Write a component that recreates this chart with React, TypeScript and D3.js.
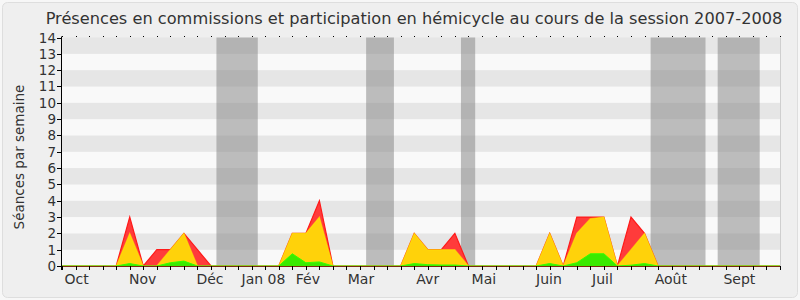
import React from "react";
import * as d3 from "d3";

const title = "Présences en commissions et participation en hémicycle au cours de la session 2007-2008";
const yAxisTitle = "Séances par semaine";

// weekly values, week index 0..53
const presenceRed = [0,0,0,0,0,3,0,1,1,2, 1,0,0,0,0,0,0,2,2,4, 0,0,0,0,0,0,2,1,1,2, 0,0,0,0,0,0,2,0,3,3, 3,0,3,2,0,0,0,0,0,0, 0,0,0,0];
const participationYellow = [0,0,0,0,0,2,0,0,1,2, 0,0,0,0,0,0,0,2,2,3, 0,0,0,0,0,0,2,1,1,1, 0,0,0,0,0,0,2,0,2,2.9, 3,0,1,2,0,0,0,0,0,0, 0,0,0,0];
const commissionGreen = [0,0,0,0,0,0.15,0,0,0.2,0.3, 0,0,0,0,0,0,0,0.75,0.2,0.25, 0,0,0,0,0,0,0.15,0.08,0.06,0.06, 0,0,0,0,0,0,0.15,0,0.2,0.75, 0.75,0,0.05,0.15,0,0,0,0,0,0, 0,0,0,0];

const monthLabels = ["Oct", "Nov", "Déc", "Jan 08", "Fév", "Mar", "Avr", "Mai", "Juin", "Juil", "Août", "Sept"];
const monthPositions = [1.08, 5.96, 10.92, 14.87, 18.15, 22.07, 27.0, 31.14, 35.94, 39.89, 44.94, 50.0];

const vacationStarts = [11.4, 22.45, 29.45, 43.45, 48.4];
const vacationEnds = [14.45, 24.5, 30.5, 47.5, 51.5];

const yTicks = [0,1,2,3,4,5,6,7,8,9,10,11,12,13,14];

const W = 800, H = 300;
const left = 62, right = 780, top = 37.5, bottom = 266;
const FONT = "DejaVu Sans, Verdana, sans-serif";

export default function App() {
  const x = d3.scaleLinear().domain([0, 53]).range([left, right]);
  const y = d3.scaleLinear().domain([0, 14]).range([bottom, top]);
  const weeks = d3.range(0, 54);

  const area = (vals: number[]) =>
    d3.area<number>().x((_, i) => x(i)).y0(y(0)).y1((v) => y(v))(vals) || "";
  const line = (vals: number[]) =>
    d3.line<number>().x((_, i) => x(i)).y((v) => y(v))(vals) || "";

  return (
    <div style={{ position: "fixed", left: 0, top: 0 }}>
      <svg width={W} height={H} style={{ display: "block" }}>
        <rect x={0} y={0} width={W} height={H} fill="#f7f7f7" />
        <rect x={2.5} y={2.5} width={W - 5} height={H - 5} rx={5} fill="#efefef" stroke="#dedede" />
        <text x={(45 + 783) / 2} y={24} textAnchor="middle" fontFamily={FONT} fontSize={16.2} fill="#333">{title}</text>

        {/* stripes */}
        {yTicks.slice(0, -1).map((t) => (
          <rect key={t} x={left} y={y(t + 1)} width={right - left} height={y(t) - y(t + 1)} fill={t % 2 === 1 ? "#e6e6e6" : "#f9f9f9"} />
        ))}
        {/* vacations */}
        {vacationStarts.map((s, i) => (
          <rect key={i} x={x(s)} y={top} width={x(vacationEnds[i]) - x(s)} height={bottom - top} fill="#808080" fillOpacity={0.5} />
        ))}
        <line x1={right + 0.5} x2={right + 0.5} y1={top} y2={bottom} stroke="#cfcfcf" />

        {/* areas */}
        <path d={area(presenceRed)} fill="#ff3b3b" />
        <path d={line(presenceRed)} fill="none" stroke="#ff1a1a" strokeWidth={1.2} />
        <path d={area(participationYellow)} fill="#ffd20a" />
        <path d={line(participationYellow)} fill="none" stroke="#ffee00" strokeOpacity={0.55} strokeWidth={1.2} />
        <path d={area(commissionGreen)} fill="#3aea00" />
        <path d={line(commissionGreen)} fill="none" stroke="#33ff00" strokeWidth={1} />

        {/* axes */}
        <line x1={left} x2={right} y1={bottom + 0.5} y2={bottom + 0.5} stroke="#7a2a10" />
        <line x1={left - 0.5} x2={left - 0.5} y1={top - 1} y2={bottom + 4} stroke="#000" />
        {yTicks.map((t) => (
          <g key={t}>
            <line x1={left - 5} x2={left} y1={Math.round(y(t)) + 0.5} y2={Math.round(y(t)) + 0.5} stroke="#000" />
            <text x={left - 6} y={y(t) + 5} textAnchor="end" fontFamily={FONT} fontSize={13.5} fill="#333">{t}</text>
          </g>
        ))}
        {weeks.map((w) => (
          <g key={w}>
            <line x1={Math.round(x(w)) + 0.5} x2={Math.round(x(w)) + 0.5} y1={bottom} y2={bottom + 4} stroke="#000" />
            <rect x={Math.round(x(w))} y={36} width={1} height={1} fill="#000" />
          </g>
        ))}
        {monthLabels.map((m, i) => (
          <text key={m} x={x(monthPositions[i])} y={284} textAnchor="middle" fontFamily={FONT} fontSize={14} fill="#333">{m}</text>
        ))}
        <text transform={`translate(24, 157) rotate(-90)`} textAnchor="middle" fontFamily={FONT} fontSize={13.5} fill="#333">{yAxisTitle}</text>
      </svg>
    </div>
  );
}
